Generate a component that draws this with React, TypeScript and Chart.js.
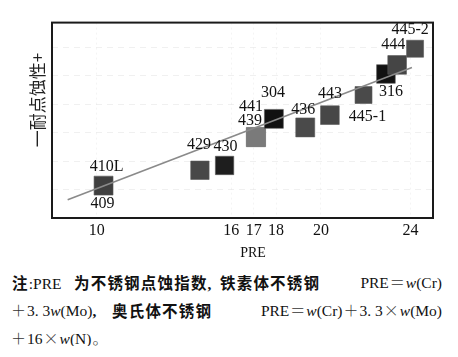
import React, { useEffect, useRef } from "react";
import { Chart, registerables } from "chart.js";

Chart.register(...registerables);

// ---- data ----
const grades = ["409/410L", "429", "430", "439", "304/441", "436", "443", "445-1", "316", "444", "445-2"];
const preValues = [10.3, 14.6, 15.7, 17.1, 17.9, 19.3, 20.4, 21.9, 22.9, 23.4, 24.2];
const resistance = [1.14, 1.68, 1.85, 2.85, 3.49, 3.19, 3.62, 4.33, 5.07, 5.39, 5.96];
const trendX = [8.7, 24.06];
const trendY = [0.64, 5.3];
const xTicks = [10, 16, 17, 18, 20, 24];
const xTitle = "PRE";
const yTitle = "一耐点蚀性+";

// label text, index of the point it belongs to
const labelTexts = ["410L", "409", "429", "430", "439", "441", "304", "436", "443", "445-1", "316", "444", "445-2"];
const labelPoint = [0, 0, 1, 2, 3, 4, 4, 5, 6, 7, 8, 9, 10];

// ---- styles ----
const squareColors = ["#3f3f3f", "#484848", "#1e1e1e", "#7a7a7a", "#111111", "#4a4a4a", "#474747", "#4a4a4a", "#121212", "#454545", "#4a4a4a"];
const squareRadius = [13.4, 13, 13, 13.6, 13.4, 13.4, 13.2, 12, 13.2, 13.2, 12];
const labelOffsets: [number, number][] = [
  [3, -19], [-1, 18], [-1, -25], [1, -19], [-6, -16], [-23, -12], [-1, -26],
  [-2, -18], [0, -21], [4, 22], [5, 18], [-4, -20.5], [-5, -18.5],
];

const serif = '"Liberation Serif", "DejaVu Serif", serif';

const overlayPlugin = {
  id: "overlay",
  afterDatasetsDraw(chart: any) {
    const { ctx, chartArea } = chart;
    const meta = chart.getDatasetMeta(1);
    ctx.save();
    ctx.fillStyle = "#111";
    ctx.font = `16px ${serif}`;
    ctx.textAlign = "center";
    ctx.textBaseline = "middle";
    labelTexts.forEach((t, i) => {
      const el = meta.data[labelPoint[i]];
      if (!el) return;
      ctx.fillText(t, el.x + labelOffsets[i][0], el.y + labelOffsets[i][1]);
    });
    // frame
    ctx.strokeStyle = "#1a1a1a";
    ctx.lineWidth = 2;
    ctx.strokeRect(chartArea.left, chartArea.top, chartArea.right - chartArea.left, chartArea.bottom - chartArea.top);
    // axis titles
    ctx.font = `14px ${serif}`;
    ctx.fillText(xTitle, 245, 245);
    ctx.translate(30, 92);
    ctx.rotate(-Math.PI / 2);
    ctx.font = '17px "Noto Sans CJK SC", sans-serif';
    ctx.fillStyle = "#222";
    ctx.fillText(yTitle, 0, 0);
    ctx.restore();
  },
};

function ChartBox() {
  const ref = useRef<HTMLCanvasElement | null>(null);
  useEffect(() => {
    if (!ref.current) return;
    const chart = new Chart(ref.current, {
      type: "scatter",
      data: {
        datasets: [
          {
            type: "line",
            data: trendX.map((x, i) => ({ x, y: trendY[i] })),
            borderColor: "#8a8a8a",
            borderWidth: 1.6,
            pointRadius: 0,
            fill: false,
          } as any,
          {
            data: preValues.map((x, i) => ({ x, y: resistance[i] })),
            pointStyle: "rect",
            pointRadius: squareRadius,
            pointBackgroundColor: squareColors,
            pointBorderColor: "rgba(90,90,90,0.6)",
            pointBorderWidth: 1,
          },
        ],
      },
      options: {
        animation: false,
        responsive: true,
        maintainAspectRatio: false,
        layout: { padding: { left: 44, top: 8, right: 17, bottom: 22.8 } },
        plugins: { legend: { display: false }, tooltip: { enabled: false } },
        scales: {
          x: {
            type: "linear",
            min: 8,
            max: 25,
            afterBuildTicks: (scale: any) => {
              scale.ticks = xTicks.map((v) => ({ value: v }));
            },
            ticks: {
              font: { family: serif, size: 16 },
              color: "#111",
              padding: 3,
              callback: (v: any) => String(v),
            },
            grid: { color: "rgba(0,0,0,0.045)", drawTicks: false },
            border: { display: false, dash: [2, 3] },
            title: { display: false },
          },
          y: {
            type: "linear",
            min: 0,
            max: 6.88,
            ticks: { display: false, stepSize: 1 },
            grid: { color: "rgba(0,0,0,0.06)", drawTicks: false },
            border: { display: false, dash: [6, 5] },
            afterFit: (scale: any) => {
              scale.width = 0;
            },
          },
        },
      },
      plugins: [overlayPlugin],
    } as any);
    return () => chart.destroy();
  }, []);
  return (
    <div style={{ position: "relative", width: 442, height: 258 }}>
      <canvas ref={ref} />
    </div>
  );
}

const W = () => <i>w</i>;
const cjk: React.CSSProperties = { fontFamily: '"Noto Sans CJK SC", sans-serif', fontWeight: 700, fontSize: 15.5, letterSpacing: 1.2 };
const thin: React.CSSProperties = { fontFamily: '"Noto Sans CJK SC", sans-serif', fontWeight: 300, fontSize: 15, color: "#333", margin: "0 1px" };
const Op = ({ c }: { c: string }) => <span style={thin}>{c}</span>;
const C = ({ t }: { t: string }) => <span style={cjk}>{t}</span>;

const seg = (pos: React.CSSProperties): React.CSSProperties => ({ position: "absolute", top: 0, whiteSpace: "nowrap", ...pos });

export default function App() {
  useEffect(() => {
    document.documentElement.style.overflow = "hidden";
    document.body.style.overflow = "hidden";
  }, []);
  const row: React.CSSProperties = { position: "relative", height: 28 };
  return (
    <div style={{ height: 338, overflow: "visible" }}>
      <ChartBox />
      <div
        style={{
          marginLeft: 2,
          marginTop: 2,
          width: 432,
          fontFamily: serif,
          fontSize: 15.5,
          lineHeight: "28px",
          color: "#111",
        }}
      >
        <div style={row}>
          <span style={seg({ left: 2 })}><C t="注" />:PRE</span>
          <span style={seg({ left: 64 })}><C t="为不锈钢点蚀指数" /><b>,</b></span>
          <span style={seg({ left: 210 })}><C t="铁素体不锈钢" /></span>
          <span style={seg({ right: 0 })}>PRE<Op c="＝" /><W />(Cr)</span>
        </div>
        <div style={row}>
          <span style={seg({ left: 0 })}><Op c="＋" />3. 3<W />(Mo)<b>,</b></span>
          <span style={seg({ left: 102 })}><C t="奥氏体不锈钢" /></span>
          <span style={seg({ right: 0 })}>PRE<Op c="＝" /><W />(Cr)<Op c="＋" />3. 3<Op c="×" /><W />(Mo)</span>
        </div>
        <div style={row}>
          <span style={seg({ left: 0 })}><Op c="＋" />16<Op c="×" /><W />(N)<span style={thin}>。</span></span>
        </div>
      </div>
    </div>
  );
}
